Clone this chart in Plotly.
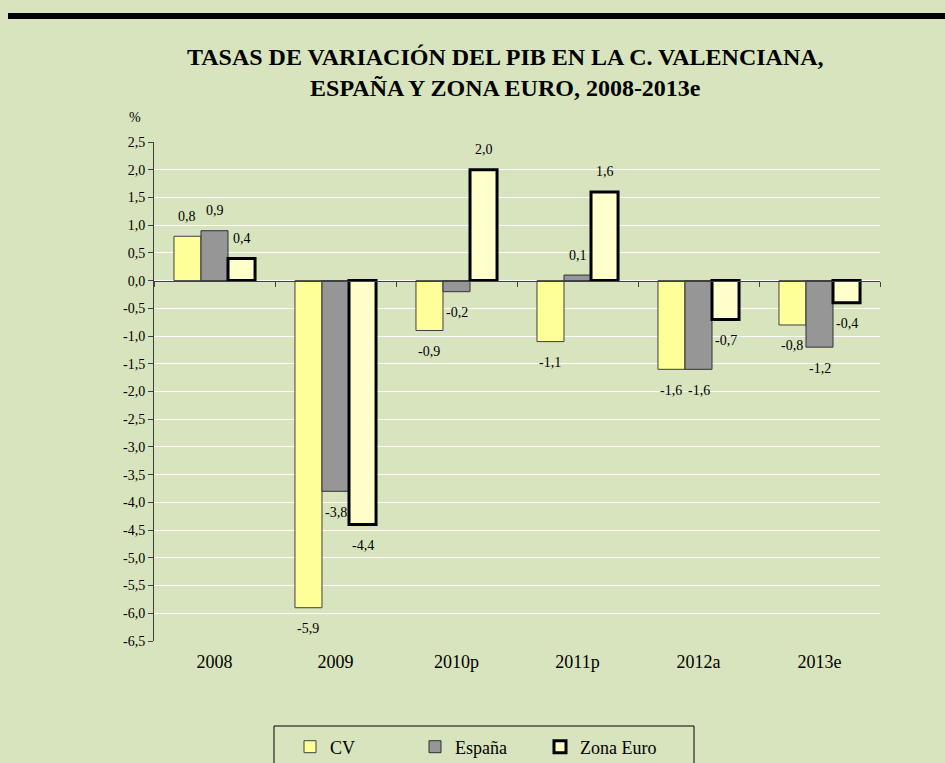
import plotly.graph_objects as go

# ---- data ----
categories = ["2008", "2009", "2010p", "2011p", "2012a", "2013e"]
cv = [0.8, -5.9, -0.9, -1.1, -1.6, -0.8]
espana = [0.9, -3.8, -0.2, 0.1, -1.6, -1.2]
zona_euro = [0.4, -4.4, 2.0, 1.6, -0.7, -0.4]
series_names = ["CV", "España", "Zona Euro"]
y_ticks = [2.5 - 0.5 * i for i in range(19)]  # 2,5 ... -6,5

# ---- layout constants (pixels) ----
W, H = 945, 763
L, R, T, B = 154, 880, 142, 641
BG = "#D7E4BD"
FONT = "Liberation Serif, Times New Roman, serif"
YMIN, YMAX = -6.5, 2.5
BARGAP = 0.33


def px_x(px):
    return (px - L) / (R - L)


def px_y(py):
    return (B - py) / (B - T)


def fmt(v):
    return f"{v:.1f}".replace(".", ",")


series = [cv, espana, zona_euro]
styles = [
    dict(color="#FFFF99", line=dict(color="#404040", width=1)),
    dict(color="#969696", line=dict(color="#303030", width=1)),
    dict(color="#FFFFCC", line=dict(color="#000000", width=3)),
]

fig = go.Figure()
for name, vals, st in zip(series_names, series, styles):
    fig.add_trace(go.Bar(x=categories, y=vals, name=name, marker=st))

# invisible trace for the zero-line axis
fig.add_trace(go.Scatter(x=categories, y=[None] * len(categories), xaxis="x2",
                         showlegend=False, hoverinfo="skip", mode="markers"))

# data labels
w = (1 - BARGAP) / 3
annotations = []
for k, vals in enumerate(series):
    for i, v in enumerate(vals):
        annotations.append(dict(
            x=i + (k - 1) * w, y=v, xref="x", yref="y",
            text=fmt(v), showarrow=False,
            yshift=20 if v >= 0 else -21,
            xanchor="center", yanchor="middle",
            font=dict(family=FONT, size=14, color="#000000"),
        ))

# title
annotations.append(dict(
    x=px_x(505), y=px_y(72), xref="paper", yref="paper",
    text="<b>TASAS DE VARIACIÓN DEL PIB EN LA C. VALENCIANA,<br>ESPAÑA Y ZONA EURO, 2008-2013e</b>",
    showarrow=False, xanchor="center", yanchor="middle",
    font=dict(family=FONT, size=24, color="#000000"),
))
# % label
annotations.append(dict(
    x=px_x(135), y=px_y(117), xref="paper", yref="paper", text="%",
    showarrow=False, xanchor="center", yanchor="middle",
    font=dict(family=FONT, size=14, color="#000000"),
))

shapes = [
    # top black band
    dict(type="rect", xref="paper", yref="paper",
         x0=px_x(8), x1=px_x(W + 5), y0=px_y(19), y1=px_y(13),
         fillcolor="#000000", line=dict(width=0), layer="above"),
    # legend frame
    dict(type="rect", xref="paper", yref="paper",
         x0=px_x(274), x1=px_x(694), y0=px_y(H + 10), y1=px_y(726),
         fillcolor="rgba(0,0,0,0)", line=dict(color="#000000", width=1)),
]

fig.update_layout(
    width=W, height=H,
    margin=dict(l=L, r=W - R, t=T, b=H - B, pad=0, autoexpand=False),
    paper_bgcolor=BG, plot_bgcolor=BG,
    separators=", ",
    barmode="group", bargap=BARGAP, bargroupgap=0,
    font=dict(family=FONT, color="#000000"),
    showlegend=True,
    legend=dict(orientation="h", x=px_x(290), y=px_y(747),
                xanchor="left", yanchor="middle",
                bgcolor="rgba(0,0,0,0)", borderwidth=0,
                font=dict(family=FONT, size=18), itemwidth=30,
                entrywidth=80, entrywidthmode="pixels",
                traceorder="normal"),
    annotations=annotations,
    shapes=shapes,
    xaxis=dict(type="category", categoryorder="array", categoryarray=categories,
               range=[-0.5, len(categories) - 0.5],
               showline=False, showgrid=False, zeroline=False, ticks="",
               ticklabelstandoff=8,
               tickfont=dict(family=FONT, size=18, color="#000000")),
    xaxis2=dict(type="category", categoryorder="array", categoryarray=categories,
                range=[-0.5, len(categories) - 0.5],
                overlaying="x", anchor="free",
                position=(0 - YMIN) / (YMAX - YMIN),
                showline=True, linecolor="#404040", linewidth=1,
                ticks="outside", tickson="boundaries", ticklen=5,
                tickcolor="#404040", showticklabels=False,
                showgrid=False, zeroline=False),
    yaxis=dict(range=[YMIN, YMAX], tickmode="array",
               tickvals=y_ticks, ticktext=[fmt(v) for v in y_ticks],
               showline=True, linecolor="#404040", linewidth=1,
               ticks="outside", ticklen=5, tickcolor="#404040",
               showgrid=True, gridcolor="#FFFFFF", gridwidth=1,
               zeroline=False,
               tickfont=dict(family=FONT, size=14, color="#000000")),
)

fig.write_html(
    "out.html",
    config={"displayModeBar": False},
    post_script="document.body.style.margin='0';document.body.style.overflow='hidden';"
                "document.body.style.background='" + BG + "';",
)
